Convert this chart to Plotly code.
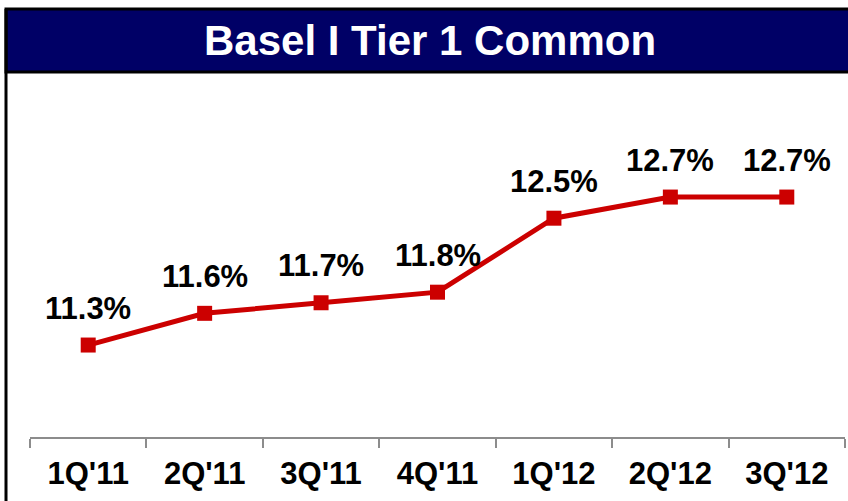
import plotly.graph_objects as go

categories = ["1Q'11", "2Q'11", "3Q'11", "4Q'11", "1Q'12", "2Q'12", "3Q'12"]
values = [11.3, 11.6, 11.7, 11.8, 12.5, 12.7, 12.7]
labels = ["11.3%", "11.6%", "11.7%", "11.8%", "12.5%", "12.7%", "12.7%"]
title_text = "Basel I Tier 1 Common"

FONT = "Liberation Sans, Arial, sans-serif"
NAVY = "#000066"
RED = "#CC0000"

W, H = 848, 501
ML, MR, MT, MB = 30, 3, 80, 64
PW = W - ML - MR
PH = H - MT - MB

def px_x(p):
    return (p - ML) / PW

def px_y(p):
    return (H - MB - p) / PH

fig = go.Figure()
fig.add_trace(go.Scatter(
    x=categories, y=values, mode="lines+markers",
    line=dict(color=RED, width=5),
    marker=dict(symbol="square", size=15, color=RED),
    hoverinfo="skip", showlegend=False, cliponaxis=False,
))

annotations = []
for c, v, t in zip(categories, values, labels):
    annotations.append(dict(
        x=c, y=v, text=t, showarrow=False, yshift=37,
        font=dict(family=FONT, size=31, color="black", weight="bold"),
        xanchor="center", yanchor="middle",
    ))
annotations.append(dict(
    xref="paper", yref="paper", x=px_x(430), y=px_y(41),
    text=title_text, showarrow=False, xanchor="center", yanchor="middle",
    font=dict(family=FONT, size=42, color="white", weight="bold"),
))

shapes = [
    dict(type="rect", xref="paper", yref="paper",
         x0=px_x(6), x1=px_x(860), y0=px_y(72), y1=px_y(9),
         fillcolor=NAVY, line=dict(color="black", width=3), layer="below"),
    dict(type="line", xref="paper", yref="paper",
         x0=px_x(6), x1=px_x(6), y0=px_y(9), y1=px_y(510),
         line=dict(color="black", width=3)),
]

fig.update_layout(
    width=W, height=H,
    margin=dict(l=ML, r=MR, t=MT, b=MB),
    paper_bgcolor="white", plot_bgcolor="white",
    annotations=annotations, shapes=shapes,
    xaxis=dict(
        type="category", range=[-0.5, 6.5],
        showline=True, linecolor="#8c8c8c", linewidth=2,
        ticks="outside", tickson="boundaries", ticklen=9, tickwidth=2, tickcolor="#8c8c8c",
        ticklabelstandoff=8,
        showgrid=False, zeroline=False,
        tickfont=dict(family=FONT, size=31, color="black", weight="bold"),
    ),
    yaxis=dict(visible=False, range=[10.43, 10.43 + PH / 105.7], fixedrange=True),
)

fig.write_html(
    "out.html",
    config={"displayModeBar": False, "staticPlot": True},
    post_script="document.body.style.margin='0';document.body.style.overflow='hidden';",
)
